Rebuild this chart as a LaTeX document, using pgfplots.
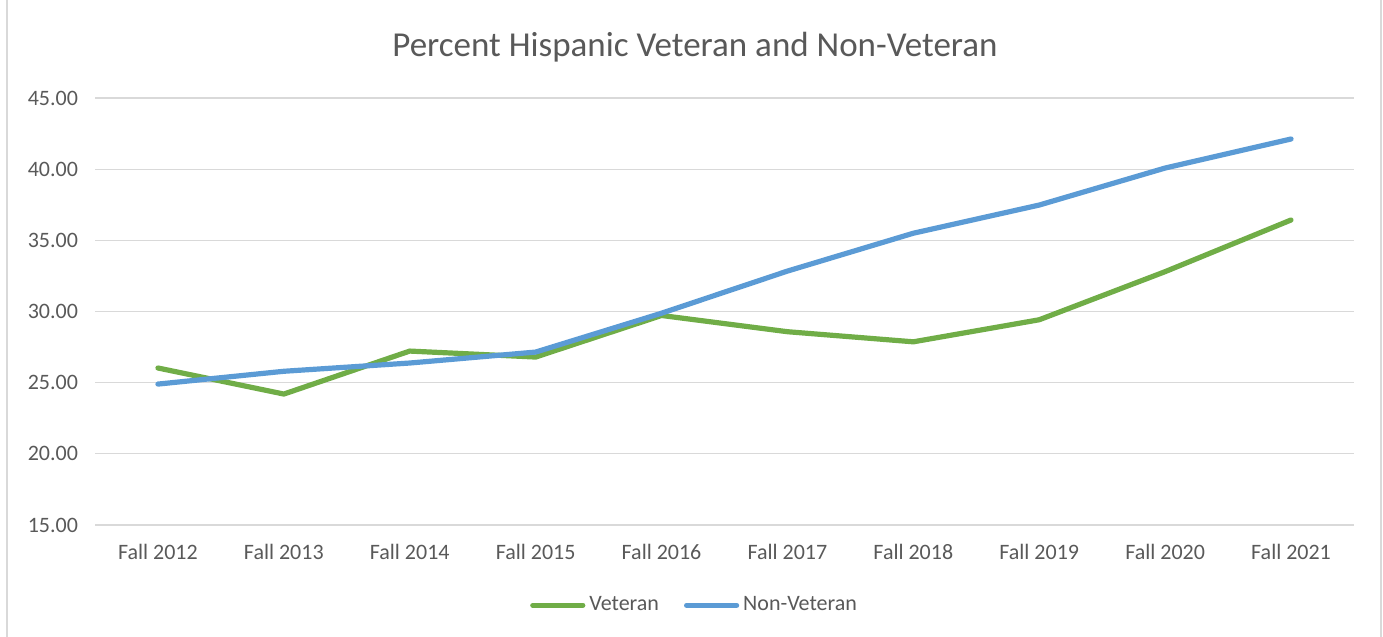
\documentclass[border=0pt]{standalone}
\usepackage{pgfplots}
\pgfplotsset{compat=1.18}
\usepackage{fontspec}
\setmainfont{Carlito}
\definecolor{vetgreen}{HTML}{70AD47}
\definecolor{nvblue}{HTML}{5B9BD5}
\definecolor{txtgray}{HTML}{595959}
\definecolor{gridgray}{HTML}{D9D9D9}
\begin{document}
\begin{tikzpicture}
\path[use as bounding box] (0pt,0pt) rectangle (691.5pt,318.5pt);
\draw[gridgray,line width=0.6pt] (3.5pt,-2pt) -- (3.5pt,320pt);
\draw[gridgray,line width=0.6pt] (690.5pt,-2pt) -- (690.5pt,320pt);
\node[text=txtgray,font=\fontsize{17.5}{20}\selectfont] at (347.5pt,295pt) {Percent Hispanic Veteran and Non-Veteran};
\begin{axis}[
  at={(47.5pt,56pt)}, anchor=south west,
  scale only axis, width=629.5pt, height=213.5pt,
  xmin=-0.5, xmax=9.5, ymin=15, ymax=45,
  ytick={15,20,...,45},
  xtick={0,...,9},
  xticklabels={Fall 2012,Fall 2013,Fall 2014,Fall 2015,Fall 2016,Fall 2017,Fall 2018,Fall 2019,Fall 2020,Fall 2021},
  /pgf/number format/.cd, fixed, fixed zerofill, precision=2, assume math mode=true,
  /pgfplots/.cd,
  ymajorgrids, grid style={gridgray,line width=0.6pt},
  axis line style={draw=none},
  tick style={draw=none},
  ticklabel style={text=txtgray,font=\fontsize{11}{13}\selectfont},
  yticklabel style={xshift=-5pt},
  xticklabel style={yshift=-6pt},
  legend style={at={(0.477,-0.188)},anchor=center,draw=none,legend columns=2,
    font=\fontsize{11}{13}\selectfont,text=txtgray,inner sep=0pt,
    /tikz/every even column/.append style={column sep=10.5pt}},
  legend image code/.code={\draw[#1,line cap=round] (0pt,0pt) -- (25pt,0pt);},
  clip=false,
]
\addplot[vetgreen,line width=2.6pt,line join=round,line cap=round] coordinates {
(0,26.03) (1,24.2) (2,27.22) (3,26.8) (4,29.72) (5,28.58) (6,27.87) (7,29.42) (8,32.8) (9,36.43)};
\addlegendentry{Veteran}
\addplot[nvblue,line width=2.6pt,line join=round,line cap=round] coordinates {
(0,24.9) (1,25.8) (2,26.38) (3,27.15) (4,29.88) (5,32.84) (6,35.5) (7,37.48) (8,40.08) (9,42.12)};
\addlegendentry{Non-Veteran}
\end{axis}
\end{tikzpicture}
\end{document}
